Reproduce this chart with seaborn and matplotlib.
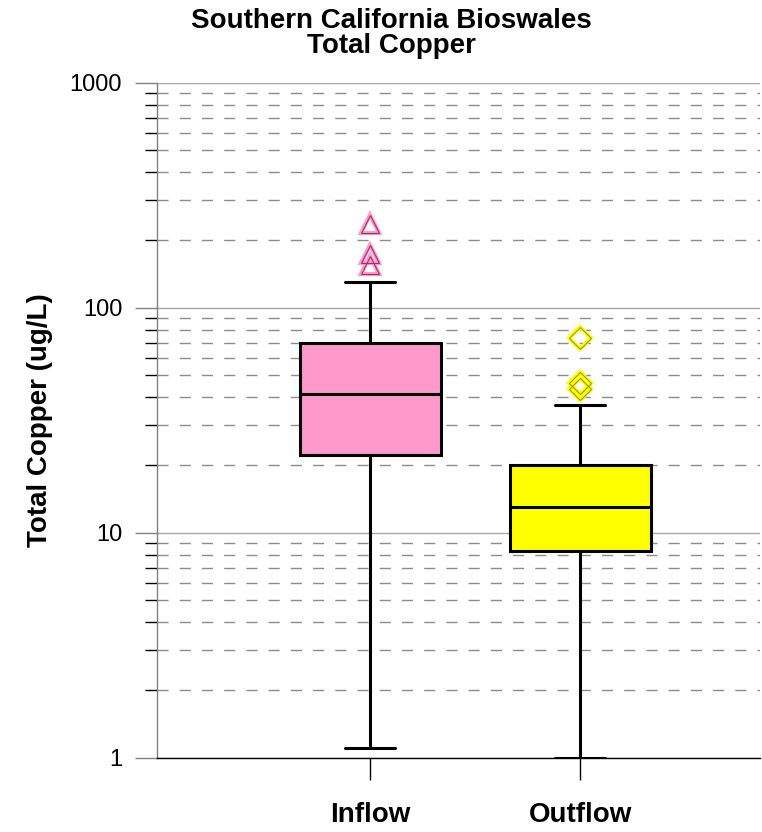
import matplotlib
matplotlib.use('Agg')
import matplotlib.pyplot as plt
import matplotlib.ticker as mticker
import seaborn as sns

# summary stats (ug/L)
sites = ['Inflow', 'Outflow']
whisker_low = [1.10, 1.0]
q1 = [22.2, 8.3]
median = [41.2, 13.0]
q3 = [69.5, 20.0]
whisker_high = [130.5, 36.8]
outliers = [[235, 174, 155], [73.3, 46.2, 43.3]]

box_colors = ['#FF99CC', '#FFFF00']
edge_colors = ['#993366', '#999900']
markers = ['^', 'D']
marker_sizes = [13, 11]

sns.set_style('white')
plt.rcParams['font.family'] = ['Liberation Sans', 'DejaVu Sans']
plt.rcParams.update({'text.color': 'black', 'axes.labelcolor': 'black',
                     'xtick.labelcolor': 'black', 'ytick.labelcolor': 'black'})

fig = plt.figure(figsize=(7.62, 8.32), dpi=100)
ax = fig.add_axes([0.206, 0.0893, 0.7913, 0.8113])

stats = []
for i, name in enumerate(sites):
    stats.append({'label': name, 'whislo': whisker_low[i], 'q1': q1[i],
                  'med': median[i], 'q3': q3[i], 'whishi': whisker_high[i],
                  'fliers': []})

pos = list(range(len(sites)))
bp = ax.bxp(stats, positions=pos, widths=0.675, capwidths=0.238,
            patch_artist=True, showfliers=False,
            boxprops=dict(linewidth=2.2, edgecolor='black'),
            medianprops=dict(linewidth=2.2, color='black'),
            whiskerprops=dict(linewidth=2.2, color='black'),
            capprops=dict(linewidth=2.2, color='black'))
for patch, c in zip(bp['boxes'], box_colors):
    patch.set_facecolor(c)
    patch.set_zorder(3)
for ln in bp['medians'] + bp['whiskers'] + bp['caps']:
    ln.set_zorder(4)

# outliers: coloured outer edge with a thin dark inner edge
for i, vals in enumerate(outliers):
    xs = [pos[i]] * len(vals)
    ax.plot(xs, vals, ls='none', marker=markers[i], ms=marker_sizes[i],
            mfc='none', mec=box_colors[i], mew=3, zorder=5)
    ax.plot(xs, vals, ls='none', marker=markers[i], ms=marker_sizes[i],
            mfc='none', mec=edge_colors[i], mew=0.8, zorder=6)

ax.set_yscale('log')
ax.set_ylim(1, 1000)
ax.set_xlim(-1.0167, 1.855)
ax.yaxis.set_major_locator(mticker.FixedLocator([1, 10, 100, 1000]))
ax.yaxis.set_major_formatter(mticker.FuncFormatter(lambda v, p: f'{v:g}'))
ax.yaxis.set_minor_locator(mticker.LogLocator(base=10, subs=range(2, 10)))
ax.yaxis.set_minor_formatter(mticker.NullFormatter())

ax.set_axisbelow(True)
ax.yaxis.grid(True, which='major', color='#a6a6a6', lw=1, ls='-')
ax.yaxis.grid(True, which='minor', color='#8c8c8c', lw=1, ls=(0, (8, 8)))
ax.xaxis.grid(False)

ax.tick_params(axis='y', which='major', left=True, length=16, width=1,
               color='#808080', pad=9, labelsize=17)
ax.tick_params(axis='y', which='minor', left=True, length=8.6, width=1,
               color='black')
ax.set_xticks(pos)
ax.set_xticklabels(sites, fontsize=20, fontweight='bold')
ax.tick_params(axis='x', bottom=True, length=16, width=1, color='black', pad=16)

for s in ['top', 'right']:
    ax.spines[s].set_visible(False)
ax.spines['left'].set_color('#808080')
ax.spines['left'].set_linewidth(1)
ax.spines['bottom'].set_color('black')
ax.spines['bottom'].set_linewidth(1)

ax.set_ylabel('Total Copper (ug/L)', fontsize=20, fontweight='bold', labelpad=12)

fig.text(391 / 762, 1 - 28 / 832, 'Southern California Bioswales',
         ha='center', va='baseline', fontsize=20, fontweight='bold')
fig.text(391 / 762, 1 - 53 / 832, 'Total Copper',
         ha='center', va='baseline', fontsize=20, fontweight='bold')

fig.savefig('out.png', dpi=100)
